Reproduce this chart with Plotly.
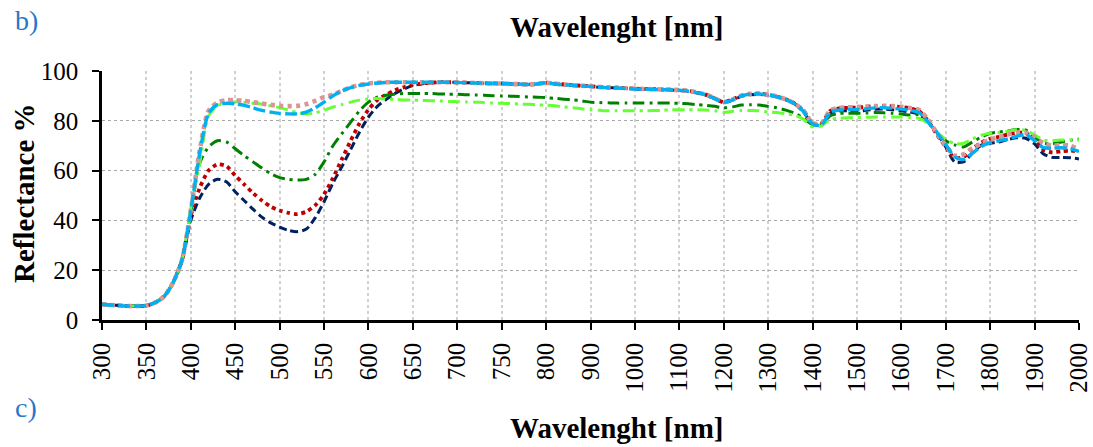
import plotly.graph_objects as go

# Wavelength grid (nm): 10 nm steps up to 800, 20 nm steps afterwards (Excel-style category axis)
wl_a = list(range(300, 801, 10))
wl_b = list(range(820, 2001, 20))
wavelengths = [str(w) for w in wl_a + wl_b]

tick_labels = ["300", "350", "400", "450", "500", "550", "600", "650", "700", "750", "800",
               "900", "1000", "1100", "1200", "1300", "1400", "1500", "1600", "1700", "1800", "1900", "2000"]

start = [6.3, 6.0, 5.8, 5.6, 5.6, 5.8, 7.0, 9.5, 15.0, 24.0]

navy = start + [40, 49, 54.5, 56.5, 55.5, 51.5, 48, 44.5, 41.3, 39, 37.3, 36, 35.5, 36.5, 41, 47.5, 55, 61.5,
                68.5, 75.5, 81.5, 85.8, 88.6, 91, 92.8, 94.2, 94.8, 95.2, 95.4, 95.5, 95.4, 95.3, 95.2, 95.1,
                95, 95, 94.8, 94.7, 94.6, 94.8, 95.3,
                94.8, 94.5, 94.2, 94, 93.8, 93.5, 93.3, 93.2, 93, 92.8, 92.7, 92.6, 92.5, 92.4, 92.2,
                91.8, 91.2, 90.3, 88.8, 87.3, 88.3, 89.8, 90.5, 90.6, 90.3, 89.6, 88.5, 86.8, 83.5, 78.7,
                78, 83, 84, 84, 83.8, 84.2, 84.6, 84.7, 84.4, 84, 83.5, 82.5, 79.5, 75, 69.5, 63.5, 63.5,
                67, 70.2, 71, 71.5, 72.5, 73.2, 73, 70.7, 66.7, 65.3, 65.3, 65.2, 64.7]

red = start + [42, 53, 60, 62.5, 61.8, 58, 54.5, 51, 48, 45.5, 44, 43, 42.5, 43.5, 46, 50.5, 57, 64.5,
               72, 79, 84.5, 88.3, 90.5, 92.3, 93.5, 94.5, 95, 95.3, 95.5, 95.5, 95.4, 95.3, 95.2, 95.1,
               95, 95, 94.8, 94.7, 94.6, 94.8, 95.3,
               94.9, 94.6, 94.3, 94.1, 93.9, 93.6, 93.4, 93.3, 93.1, 92.9, 92.8, 92.7, 92.6, 92.5, 92.3,
               92, 91.4, 90.5, 89, 87.5, 88.6, 90.1, 90.8, 90.9, 90.5, 89.7, 88.6, 86.9, 84, 79,
               79, 84, 85, 85.2, 85.3, 85.6, 85.9, 86, 85.8, 85.5, 85, 83.8, 80, 74.5, 69.5, 65, 65.5,
               68.8, 71.3, 72.8, 73.6, 74.5, 75.2, 75, 72.7, 68.3, 67.3, 67.8, 68, 67.7]

dark_green = start + [43, 63, 69.5, 72, 71.5, 68.8, 66, 63.5, 61, 58.8, 57.2, 56.5, 56.2, 56.5, 58.5, 63.5,
                      70, 74.8, 79.5, 84, 87.5, 89.5, 90.3, 90.7, 91, 91, 91, 91, 90.8, 90.7, 90.7, 90.5,
                      90.4, 90.3, 90.1, 90, 89.9, 89.8, 89.6, 89.5, 89.3,
                      89, 88.7, 88.4, 88, 87.5, 87.3, 87.2, 87.1, 87.1, 87.1, 87.1, 87.1, 87.1, 87.1, 87,
                      86.8, 86.5, 86.2, 85.8, 85.2, 85.6, 86.3, 86.4, 86.3, 85.8, 85.2, 84.3, 83, 81, 78.5,
                      78.5, 82, 83, 83, 83, 83.1, 83.3, 83.2, 83, 82.7, 82.3, 82.5, 79.5, 75.5, 72, 70.3,
                      69.5, 71.5, 73.5, 75, 75.5, 76, 76.5, 76.3, 73.5, 71, 70.8, 71.5, 72.2, 72.6]

light_green = start + [45, 63, 82, 86, 87.2, 87.6, 87.4, 87, 86.7, 86, 85.3, 84.3, 83.3, 82.7, 83.2, 84.2,
                       85.5, 86.5, 87.5, 88.3, 88.8, 89, 88.8, 88.6, 88.4, 88.3, 88.2, 88.1, 88, 87.8,
                       87.7, 87.6, 87.5, 87.3, 87.1, 87, 86.9, 86.7, 86.6, 86.4, 86.3,
                       86, 85.6, 85.2, 84.8, 84.4, 84.2, 84, 84, 84, 84, 84, 84.1, 84.2, 84.4, 84.4,
                       84.4, 84.4, 84.3, 84, 83.3, 83.8, 84.1, 84.1, 84, 83.5, 83.3, 82.8, 82.2, 80.5, 77.5,
                       78, 80.5, 81, 81.2, 81.3, 81.4, 81.5, 81.5, 81.5, 81.5, 81.3, 81, 79, 75.5, 72.5,
                       70.8, 71, 72.7, 74.2, 75, 75.3, 75.8, 76.4, 76.2, 74.3, 72.3, 72, 72.3, 72.3, 72.3]

cyan = start + [44, 67, 83, 86.5, 87, 86.8, 86.2, 85.2, 84.2, 83.5, 83, 82.8, 82.8, 83.5, 85.2, 87.5, 90,
                92, 93.3, 94.2, 94.8, 95.2, 95.4, 95.5, 95.5, 95.5, 95.5, 95.5, 95.5, 95.5, 95.4, 95.3,
                95.2, 95.1, 95, 95, 94.8, 94.7, 94.6, 94.8, 95.3,
                94.8, 94.5, 94.2, 94, 93.8, 93.5, 93.3, 93.2, 93, 92.8, 92.7, 92.6, 92.5, 92.4, 92.3,
                91.9, 91.3, 90.4, 88.9, 87.4, 88.4, 90, 90.7, 90.8, 90.4, 89.6, 88.5, 86.8, 83.7, 78.7,
                78.3, 83.5, 84.3, 84.5, 84.5, 84.8, 85.2, 85.3, 85, 84.7, 84.2, 83.3, 79.5, 75.3, 70.5,
                65.5, 64.5, 67, 69.7, 71.2, 72, 72.7, 73.8, 74.5, 72, 69.2, 69, 69.2, 68.8, 67.7]

pink = start + [44, 68, 84, 87.3, 88.3, 88.3, 88, 87.5, 86.9, 86.4, 86, 85.9, 86, 86.7, 88, 89.5, 90.5,
                92, 93.5, 94.4, 95, 95.3, 95.5, 95.5, 95.5, 95.5, 95.5, 95.5, 95.5, 95.5, 95.4, 95.3,
                95.2, 95.1, 95, 95, 94.8, 94.7, 94.6, 94.8, 95.3,
                94.9, 94.6, 94.3, 94.1, 93.9, 93.6, 93.4, 93.3, 93.1, 92.9, 92.8, 92.7, 92.6, 92.5, 92.3,
                92, 91.4, 90.5, 89, 87.5, 88.6, 90.1, 90.8, 90.9, 90.5, 89.7, 88.6, 86.9, 84, 79,
                79, 84.2, 85.2, 85.4, 85.5, 85.7, 85.9, 86, 85.9, 85.6, 85.1, 84.3, 80.5, 75, 70, 66,
                66.5, 69, 70.8, 72.5, 73.5, 74.5, 75.3, 75.3, 73.5, 71, 70, 70.3, 70, 68.5]

series = [
    ("navy", navy, "#002060", 3.0, "8px,4px"),
    ("red", red, "#C00000", 3.8, "3.8px,3.8px"),
    ("dark green", dark_green, "#008000", 3.0, "12px,5px,3px,5px"),
    ("light green", light_green, "#66FF33", 3.0, "12px,5px,3px,5px"),
    ("pink", pink, "#DA9694", 4.6, "4.5px,4px"),
    ("cyan", cyan, "#00B0F0", 3.4, "12px,4px"),
]

fig = go.Figure()
for name, vals, col, w, dash in series:
    fig.add_trace(go.Scatter(x=wavelengths, y=vals, mode="lines", name=name,
                             line=dict(color=col, width=w, dash=dash, shape="spline", smoothing=0.7)))

SERIF = "Liberation Serif, Times New Roman, serif"
L, R, T, B = 102, 1079, 71, 320

def px(x):
    return (x - L) / (R - L)

def py(y):
    return (B - y) / (B - T)

fig.update_layout(
    width=1093, height=447,
    margin=dict(l=L, r=1093 - R, t=T, b=447 - B, autoexpand=False),
    paper_bgcolor="white", plot_bgcolor="white",
    showlegend=False,
    font=dict(family=SERIF, color="black"),
    xaxis=dict(type="category", range=[0, len(wavelengths) - 1],
               tickmode="array", tickvals=tick_labels, ticktext=tick_labels,
               tickangle=-90, tickfont=dict(family=SERIF, size=25, color="black"),
               ticks="outside", ticklen=7, tickwidth=2, tickcolor="black",
               ticklabelstandoff=3,
               showline=True, linecolor="black", linewidth=2.5,
               showgrid=True, gridcolor="#D0D0D0", gridwidth=1.5, griddash="dot",
               zeroline=False, automargin=False),
    yaxis=dict(range=[0, 100], tickmode="array", tickvals=[0, 20, 40, 60, 80, 100],
               tickfont=dict(family=SERIF, size=25, color="black"),
               ticks="outside", ticklen=7, tickwidth=2, tickcolor="black",
               ticklabelstandoff=9,
               showline=True, linecolor="black", linewidth=2.5,
               showgrid=True, gridcolor="#A8A8A8", gridwidth=1, griddash="dot",
               zeroline=False, automargin=False),
)

ann = [
    dict(text="b)", x=px(26), y=py(21), font=dict(size=28, color="#2878C8", family=SERIF)),
    dict(text="c)", x=px(26), y=py(407), font=dict(size=28, color="#2878C8", family=SERIF)),
    dict(text="<b>Wavelenght [nm]</b>", x=px(616), y=py(27), font=dict(size=29, family=SERIF)),
    dict(text="<b>Wavelenght [nm]</b>", x=px(616), y=py(428), font=dict(size=29, family=SERIF)),
    dict(text="<b>Reflectance %</b>", x=px(24), y=py(193), textangle=-90, font=dict(size=29, family=SERIF)),
]
for a in ann:
    fig.add_annotation(xref="paper", yref="paper", showarrow=False, xanchor="center", yanchor="middle", **a)

fig.write_html("out.html", config={"displayModeBar": False},
               post_script="document.body.style.margin='0px';document.body.style.overflow='hidden';")
